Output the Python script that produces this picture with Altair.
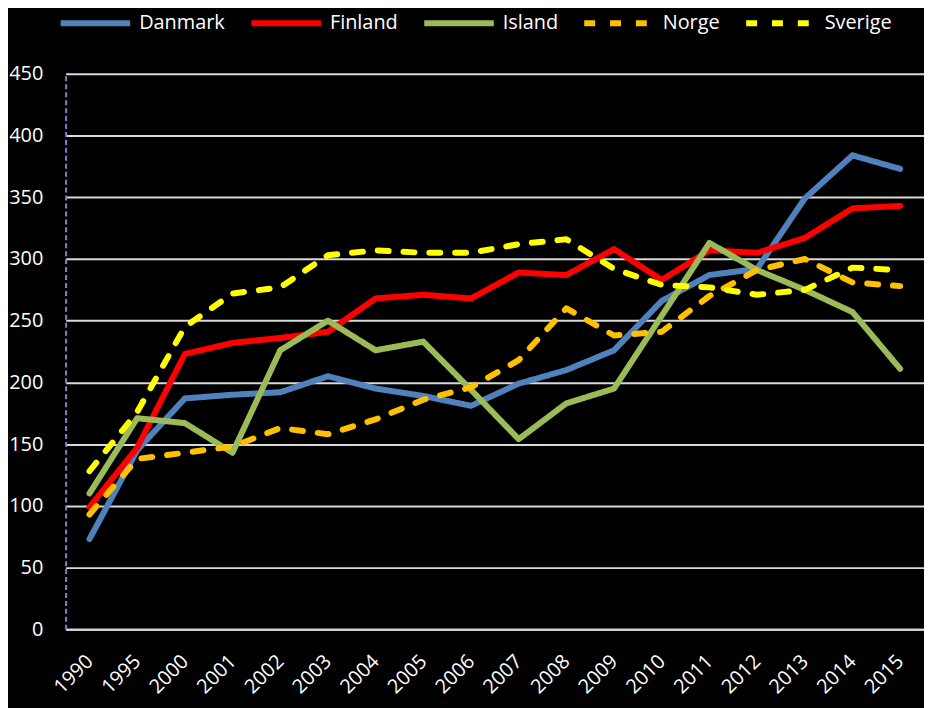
import altair as alt
import pandas as pd

years = ["1990", "1995", "2000", "2001", "2002", "2003", "2004", "2005", "2006",
         "2007", "2008", "2009", "2010", "2011", "2012", "2013", "2014", "2015"]
countries = ["Danmark", "Finland", "Island", "Norge", "Sverige"]
danmark = [73, 145, 187, 190, 192, 205, 195, 189, 181, 199, 210, 226, 266, 287, 292, 349, 384, 373]
finland = [99, 147, 223, 232, 236, 241, 268, 271, 268, 289, 287, 308, 283, 307, 305, 317, 341, 343]
island = [110, 171, 167, 143, 226, 250, 226, 233, 194, 154, 183, 195, 254, 313, 291, 275, 257, 211]
norge = [93, 138, 143, 148, 163, 158, 170, 186, 196, 218, 260, 238, 241, 270, 291, 300, 281, 278]
sverige = [128, 176, 245, 272, 277, 303, 307, 305, 305, 312, 316, 292, 279, 277, 271, 275, 293, 291]
y_ticks = [0, 50, 100, 150, 200, 250, 300, 350, 400, 450]

colors = ["#4F81BD", "#FF0000", "#9BBB59", "#FFC000", "#FFFF00"]
dashes = [[1, 0], [1, 0], [1, 0], [11, 15], [11, 15]]

series = [danmark, finland, island, norge, sverige]
rows = []
for ci, (c, vals) in enumerate(zip(countries, series)):
    for yi, (yr, v) in enumerate(zip(years, vals)):
        rows.append({"year": yr, "value": v, "country": c, "order": ci})
df = pd.DataFrame(rows)

FONT = "Open Sans"

chart = (
    alt.Chart(df)
    .mark_line(strokeWidth=6, strokeCap="round", strokeJoin="round")
    .encode(
        x=alt.X(
            "year:O",
            sort=years,
            scale=alt.Scale(type="point", padding=0.5),
            axis=alt.Axis(
                title=None,
                labelAngle=-45,
                labelAlign="right",
                labelBaseline="middle",
                labelPadding=29,
                labelFontSize=20,
                labelColor="white",
                labelFont=FONT,
                ticks=False,
                domainColor="#d9d9d9",
                domainWidth=2,
                grid=False,
            ),
        ),
        y=alt.Y(
            "value:Q",
            scale=alt.Scale(domain=[0, 450], nice=False),
            axis=alt.Axis(
                title=None,
                values=y_ticks,
                labelFontSize=20,
                labelColor="white",
                labelFont=FONT,
                labelPadding=23,
                ticks=False,
                domainColor="#8E7CC3",
                domainDash=[5, 3],
                domainWidth=2,
                grid=True,
                gridColor="#d9d9d9",
                gridWidth=2,
            ),
        ),
        color=alt.Color(
            "country:N",
            sort=countries,
            scale=alt.Scale(domain=countries, range=colors),
            legend=alt.Legend(
                title=None,
                orient="none",
                legendX=-8,
                legendY=-89,
                direction="horizontal",
                columns=5,
                gridAlign="none",
                symbolType="stroke",
                symbolSize=4900,
                symbolStrokeWidth=6,
                labelFontSize=20,
                labelFont=FONT,
                labelColor="white",
                labelOffset=6,
                columnPadding=14,
                padding=0,
            ),
        ),
        strokeDash=alt.StrokeDash(
            "country:N",
            sort=countries,
            scale=alt.Scale(domain=countries, range=dashes),
            legend=None,
        ),
        order=alt.Order("order:Q"),
        detail="country:N",
    )
    .properties(
        width=864,
        height=559,
        background="black",
        autosize=alt.AutoSizeParams(type="none"),
        padding={"left": 58, "top": 64, "right": 0, "bottom": 77},
    )
    .configure_view(stroke=None)
)

chart.save("out.html", embed_options={"renderer": "svg", "actions": False})
